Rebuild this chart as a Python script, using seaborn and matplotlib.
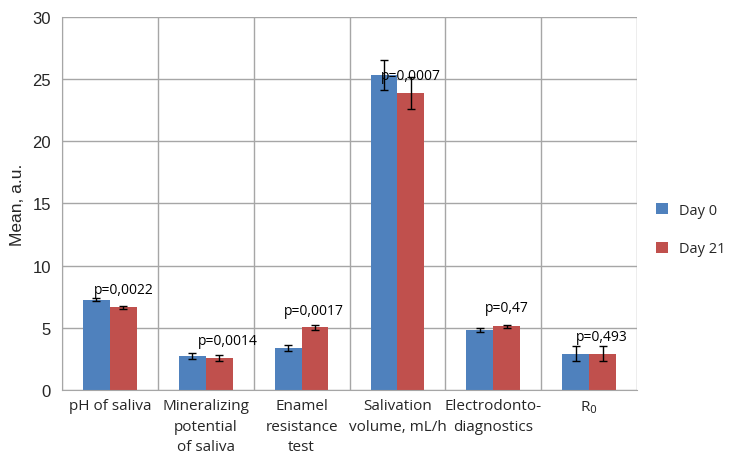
import numpy as np
import pandas as pd
import seaborn as sns
import matplotlib.pyplot as plt

# --- data ---
categories = ["pH of saliva", "Mineralizing\npotential\nof saliva", "Enamel\nresistance\ntest",
              "Salivation\nvolume, mL/h", "Electrodonto-\ndiagnostics", "R$_0$"]
day0 = [7.25, 2.76, 3.35, 25.3, 4.85, 2.9]
day21 = [6.65, 2.57, 5.05, 23.9, 5.12, 2.9]
err0 = [0.12, 0.25, 0.25, 1.2, 0.15, 0.6]
err21 = [0.1, 0.22, 0.2, 1.3, 0.12, 0.6]
p_labels = ["p=0,0022", "p=0,0014", "p=0,0017", "p=0,0007", "p=0,47", "p=0,493"]
p_x = [0.15, 1.23, 2.13, 3.14, 4.14, 5.13]
p_y = [8.1, 3.97, 6.43, 25.3, 6.6, 4.32]

groups = ["Day 0", "Day 21"]
colors = ["#4F81BD", "#C0504D"]

df = pd.DataFrame({
    "category": categories * 2,
    "group": [groups[0]] * len(categories) + [groups[1]] * len(categories),
    "value": day0 + day21,
})

sns.set_style("white")
plt.rcParams["font.family"] = ["Liberation Sans", "DejaVu Sans"]

fig = plt.figure(figsize=(7.46, 4.6), dpi=100)
ax = fig.add_axes([0.083, 0.15, 0.771, 0.811])

sns.barplot(data=df, x="category", y="value", hue="group", palette=colors,
            width=0.56, saturation=1, errorbar=None, linewidth=0, edgecolor="none",
            ax=ax, zorder=2)

# error bars on top of seaborn's bars
for cont, errs in zip(ax.containers, [err0, err21]):
    xs = [b.get_x() + b.get_width() / 2 for b in cont]
    hs = [b.get_height() for b in cont]
    ax.errorbar(xs, hs, yerr=errs, fmt="none", ecolor="black", elinewidth=1,
                capsize=3, capthick=1, zorder=3)

for lab, x, y in zip(p_labels, p_x, p_y):
    ax.text(x, y, lab, ha="center", va="center", fontsize=10,
            family=["Open Sans", "DejaVu Sans"], color="black", zorder=4)

ax.set_ylim(0, 30)
ax.set_yticks(np.arange(0, 31, 5))
ax.set_xlim(-0.5, len(categories) - 0.5)
ax.set_xticks(np.arange(-0.5, len(categories)), minor=True)
ax.grid(True, axis="y", color="#a6a6a6", linewidth=1, zorder=0)
ax.grid(True, axis="x", which="minor", color="#a6a6a6", linewidth=1, zorder=0)
ax.grid(False, axis="x", which="major")
ax.set_axisbelow(True)

for side in ["top", "right"]:
    ax.spines[side].set_visible(False)
for side in ["left", "bottom"]:
    ax.spines[side].set_color("#a6a6a6")

ax.tick_params(axis="y", which="major", length=4, color="#a6a6a6", labelsize=12, pad=4)
ax.tick_params(axis="x", which="major", length=0, pad=6)
ax.tick_params(axis="x", which="minor", length=5, color="#a6a6a6", direction="out")
ax.set_xticklabels(categories, fontsize=11, family=["Open Sans", "DejaVu Sans"],
                   linespacing=1.5, va="top")

ax.set_xlabel("")
ax.set_ylabel("Mean, a.u.", fontsize=12.5, labelpad=5)

leg = ax.legend(loc="center left", bbox_to_anchor=(1.01, 0.43), frameon=False,
                handlelength=0.8, handleheight=0.8, labelspacing=1.6,
                prop={"family": ["Open Sans", "DejaVu Sans"], "size": 10.5})

fig.savefig("out.png", dpi=100)
